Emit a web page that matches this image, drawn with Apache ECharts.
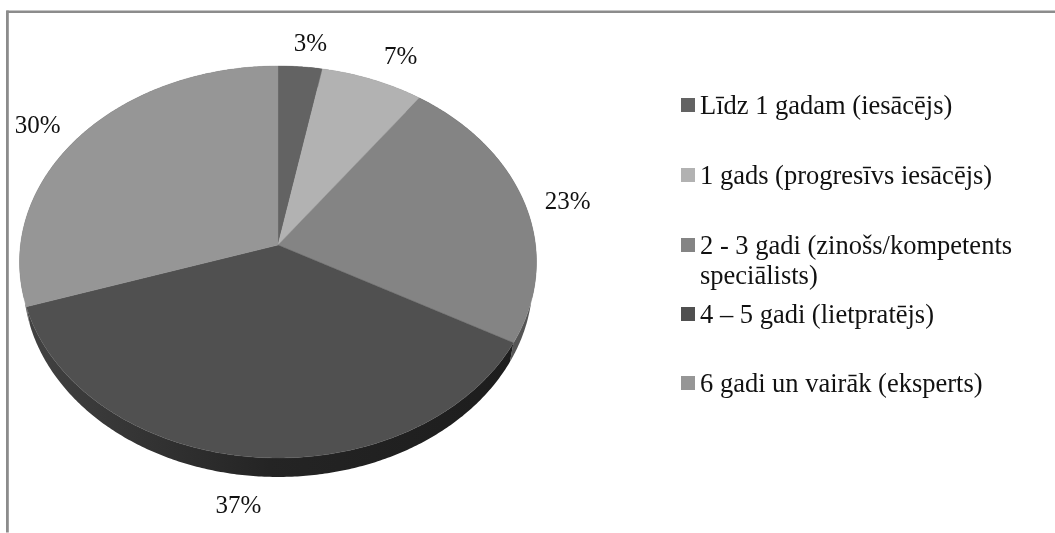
<!DOCTYPE html>
<html><head><meta charset="utf-8">
<style>html,body{margin:0;padding:0;background:#fff}#c{width:1055px;height:533px}</style>
<script src="https://cdn.jsdelivr.net/npm/echarts@6/dist/echarts.min.js"></script>
</head><body><div id="c"></div>
<script>
const categories = ['Līdz 1 gadam (iesācējs)','1 gads (progresīvs iesācējs)','2 - 3 gadi (zinošs/kompetents\nspeciālists)','4 – 5 gadi (lietpratējs)','6 gadi un vairāk (eksperts)'];
const values = [3,7,23,37,30];
const faceColors = ['#636363','#b2b2b2','#848484','#505050','#969696'];

// drawing geometry of the tilted pie (perspective projection of a disc)
const geo = {cx:278, cy:245, a:257.5, b:194.5, k:0.0867, depth:19, bottomScale:0.985};
const labelShift = [[10,-22],[28,-22],[43,-1],[-13,50],[-42,-10]];
const legendTops = [89.5,159.5,229.5,298.5,367.5];
const font = '"Liberation Serif","Times New Roman",serif';
const total = values.reduce((s,v)=>s+v,0);

function proj(t){
  const u=Math.sin(t), v=-Math.cos(t), d=1-geo.k*v;
  return [geo.cx+geo.a*u/d, geo.cy+geo.b*v/d];
}
function projLow(t){
  const p=proj(t);
  return [geo.cx+(p[0]-geo.cx)*geo.bottomScale, p[1]+geo.depth];
}
function range(i){
  let s=0; for(let j=0;j<i;j++) s+=values[j];
  return [s/total*2*Math.PI,(s+values[i])/total*2*Math.PI];
}
function arc(t0,t1,fn){
  const n=Math.max(2,Math.ceil((t1-t0)/0.01)), out=[];
  for(let j=0;j<=n;j++) out.push(fn(t0+(t1-t0)*j/n));
  return out;
}
const sideFill = [
  '#404040','#7a7a7a','#555555',
  {type:'linear',x:0,y:0,x2:1,y2:0,colorStops:[{offset:0,color:'#424242'},{offset:0.5,color:'#242424'},{offset:1,color:'#1d1d1d'}]},
  '#606060'
];

const series = [{
  name:'side', type:'custom', coordinateSystem:'none', silent:true, z:1,
  data: values.map((v,i)=>({value:[v,i]})),
  renderItem:(p,api)=>{
    const i=api.value(1), r=range(i);
    const pts=arc(r[0],r[1],proj).concat(arc(r[0],r[1],projLow).reverse());
    return {type:'polygon',shape:{points:pts},style:{fill:sideFill[i]}};
  }
}];
categories.forEach((name,i)=>{
  series.push({
    name, type:'custom', coordinateSystem:'none', silent:true, z:2,
    itemStyle:{color:faceColors[i]},
    data:[{value:[values[i]]}],
    renderItem:(p,api)=>{
      const r=range(i), share=api.value(0);
      const pts=[[geo.cx,geo.cy]].concat(arc(r[0],r[1],proj));
      const e=proj((r[0]+r[1])/2);
      return {type:'group',children:[
        {type:'polygon',shape:{points:pts},style:{fill:faceColors[i],stroke:faceColors[i],lineWidth:0.4}},
        {type:'text',x:e[0]+labelShift[i][0],y:e[1]+labelShift[i][1],
         style:{text:Math.round(share/total*100)+'%',font:'25px '+font,fill:'#111',align:'center',verticalAlign:'middle'}}
      ]};
    }
  });
});

const chart = echarts.init(document.getElementById('c'),null,{renderer:'canvas'});
chart.setOption({
  animation:false, backgroundColor:'#fff',
  legend: categories.map((name,i)=>({
    data:[name], left:681, top:legendTops[i], itemWidth:14, itemHeight:14, itemGap:0, selectedMode:false,
    icon:'rect', padding:0,
    formatter:n=>'{a|'+n.split('\n')[0]+'}',
    textStyle:{rich:{a:{fontFamily:font,fontSize:26.5,color:'#111',lineHeight:29,padding:[4,0,0,0]}}}
  })),
  graphic:[
    {type:'rect',silent:true,shape:{x:6.5,y:10.5,width:1049,height:2.5},style:{fill:'#8c8c8c'}},
    {type:'rect',silent:true,shape:{x:6,y:10.5,width:2.8,height:522},style:{fill:'#8c8c8c'}},
    {type:'text',silent:true,x:700,y:277.5,style:{text:categories[2].split('\n')[1],font:'26.5px '+font,fill:'#111',verticalAlign:'middle'}}
  ],
  series
});
</script></body></html>
